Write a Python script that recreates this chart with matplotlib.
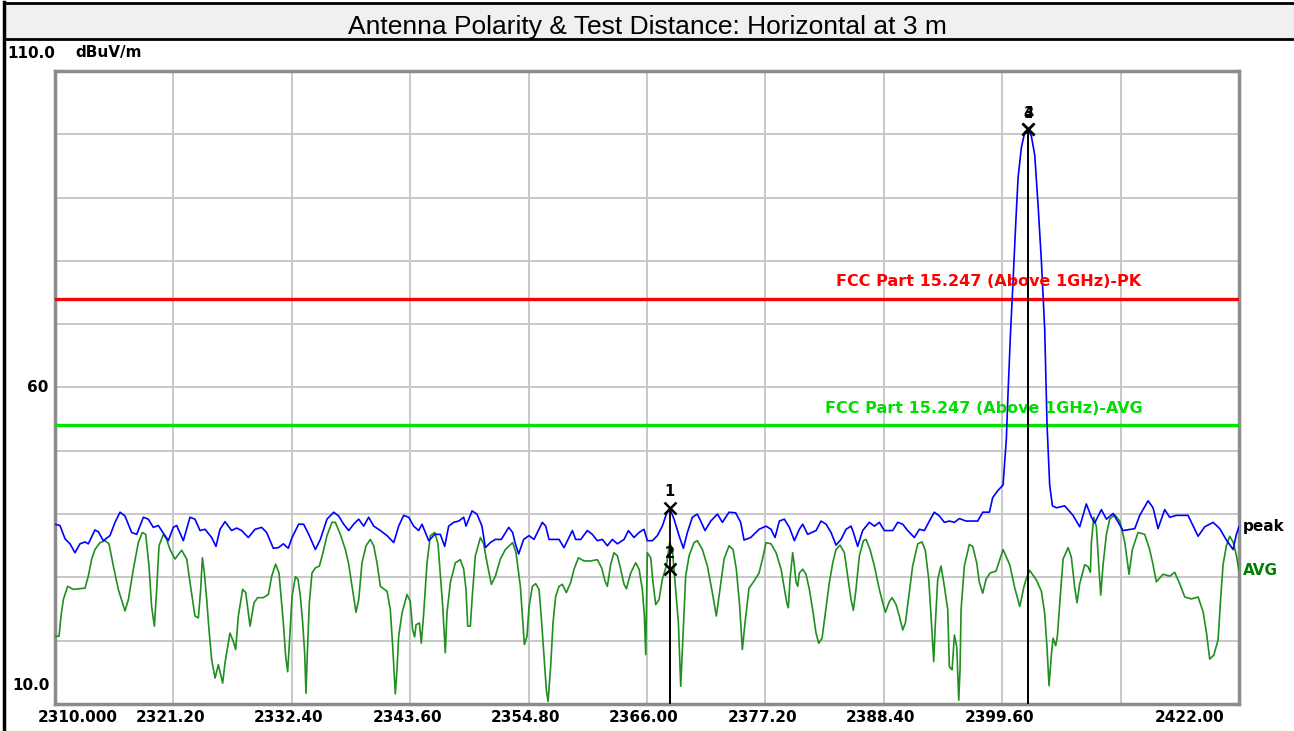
import matplotlib.pyplot as plt
import matplotlib.transforms as mtransforms
from matplotlib.lines import Line2D
from matplotlib.patches import Rectangle

# ---- data ----
title = "Antenna Polarity & Test Distance: Horizontal at 3 m"

x_ticks = [2310.0, 2321.2, 2332.4, 2343.6, 2354.8, 2366.0, 2377.2, 2388.4, 2399.6, 2410.8, 2422.0]
x_tick_labels = ["2310.000", "2321.20", "2332.40", "2343.60", "2354.80", "2366.00",
                 "2377.20", "2388.40", "2399.60", "", "2422.00"]
y_ticks = [10, 20, 30, 40, 50, 60, 70, 80, 90, 100, 110]

limit_pk = 74.0
limit_avg = 54.0
limit_pk_label = "FCC Part 15.247 (Above 1GHz)-PK"
limit_avg_label = "FCC Part 15.247 (Above 1GHz)-AVG"

peak_freq = [
    2310.00, 2310.47, 2310.95, 2311.42, 2311.89, 2312.36, 2312.84, 2313.15, 2313.78, 2314.10,
    2314.57, 2315.20, 2315.68, 2316.15, 2316.62, 2317.25, 2317.73, 2318.36, 2318.83, 2319.30,
    2319.77, 2320.41, 2320.72, 2321.19, 2321.51, 2322.14, 2322.77, 2323.24, 2323.72, 2324.19,
    2324.82, 2325.23, 2325.61, 2326.08, 2326.71, 2327.18, 2327.66, 2328.29, 2328.92, 2329.55,
    2330.02, 2330.65, 2331.13, 2331.60, 2332.07,
    2332.42, 2333.05, 2333.52, 2334.00, 2334.63, 2335.10, 2335.73, 2336.36, 2336.83, 2337.31,
    2337.78, 2338.25, 2338.73, 2339.20, 2339.67, 2340.15, 2340.78, 2341.41, 2342.04, 2342.51,
    2342.98, 2343.46, 2343.93, 2344.40, 2344.72, 2345.35, 2345.92, 2346.45, 2346.86, 2347.24,
    2347.71, 2348.19, 2348.66, 2348.88, 2349.45, 2349.92, 2350.39, 2350.71, 2351.18, 2351.65,
    2352.22, 2352.92, 2353.29, 2353.55, 2353.86, 2354.33,
    2354.84, 2355.31, 2355.63, 2356.10, 2356.42, 2356.73, 2357.20, 2357.68, 2358.15, 2358.47,
    2358.94, 2359.25, 2359.73, 2360.36, 2360.83, 2361.30, 2361.78, 2362.25, 2362.72, 2363.20,
    2363.83, 2364.24, 2364.77, 2365.25, 2365.72, 2366.03, 2366.51, 2366.98, 2367.45, 2367.83,
    2368.15, 2368.56, 2369.03, 2369.44, 2369.82, 2370.29, 2370.76, 2371.08, 2371.49, 2372.03,
    2372.66, 2373.13, 2373.76, 2374.39, 2374.86, 2375.18, 2375.81, 2376.60,
    2377.26, 2377.73, 2378.11, 2378.52, 2378.99, 2379.47, 2379.94, 2380.41, 2380.73, 2381.20,
    2381.99, 2382.46, 2382.94, 2383.41, 2383.88, 2384.35, 2384.83, 2385.30, 2385.52, 2385.93,
    2386.40, 2387.03, 2387.51, 2387.98, 2388.45, 2389.24, 2389.72, 2390.19, 2390.66, 2391.29,
    2391.77, 2392.24, 2392.71, 2393.18, 2393.66, 2394.13, 2394.60, 2395.08, 2395.55, 2396.18,
    2396.81, 2397.28, 2397.76, 2398.39, 2398.70, 2399.18,
    2399.68, 2399.99, 2400.15, 2400.37, 2400.63, 2400.88, 2401.10, 2401.41, 2401.73, 2402.04,
    2402.36, 2402.68, 2402.99, 2403.31, 2403.62, 2403.84, 2404.09, 2404.35, 2404.73, 2405.51,
    2406.30, 2406.93, 2407.56, 2408.04, 2408.35, 2408.98, 2409.46, 2410.09, 2411.03, 2412.14,
    2412.61, 2413.40, 2413.87, 2414.34, 2414.97, 2415.45, 2416.08, 2417.18, 2418.13, 2418.76,
    2419.55, 2420.18, 2420.81, 2421.44, 2421.75, 2422.00,
]
peak_level = [
    38.4, 38.2, 36.1, 35.3, 33.9, 35.3, 35.6, 35.3, 37.5, 37.2,
    35.8, 36.6, 38.7, 40.3, 39.7, 37.1, 36.8, 39.5, 39.2, 37.9,
    38.2, 36.6, 35.8, 37.9, 38.2, 35.8, 39.5, 39.2, 37.4, 37.6,
    36.3, 34.9, 37.6, 38.8, 37.4, 37.8, 37.4, 36.3, 37.6, 37.9,
    37.1, 34.6, 34.7, 35.3, 34.6,
    36.3, 38.4, 38.4, 36.8, 34.4, 36.0, 39.2, 40.3, 39.7, 38.4,
    37.4, 38.4, 39.2, 38.1, 39.5, 38.1, 37.4, 36.6, 35.5, 38.1,
    39.8, 39.5, 38.1, 37.4, 38.4, 35.8, 36.8, 36.8, 34.9, 38.1,
    38.7, 38.9, 39.5, 38.1, 40.5, 40.0, 38.1, 34.7, 35.5, 36.0,
    36.0, 37.9, 37.1, 35.3, 33.7, 36.0,
    36.6, 36.0, 37.1, 38.7, 38.1, 36.0, 36.0, 36.0, 34.7, 35.8,
    37.4, 36.0, 36.0, 37.4, 36.8, 35.8, 36.0, 35.0, 36.0, 35.3,
    36.0, 37.4, 36.3, 37.1, 37.6, 35.8, 35.8, 36.6, 38.1, 40.0,
    40.9, 39.2, 36.6, 34.6, 37.1, 39.5, 40.0, 38.9, 37.4, 38.9,
    40.0, 38.7, 40.3, 40.2, 38.7, 35.9, 36.3, 37.6,
    38.1, 37.6, 36.3, 38.9, 39.2, 37.9, 35.8, 37.6, 38.4, 36.8,
    37.4, 38.9, 38.4, 37.1, 35.1, 36.0, 37.6, 38.1, 37.1, 34.9,
    37.4, 38.7, 38.1, 38.7, 37.4, 37.4, 38.7, 38.4, 37.4, 36.3,
    37.6, 37.4, 38.9, 40.3, 39.7, 38.7, 38.9, 38.7, 39.3, 38.9,
    38.9, 38.9, 40.3, 40.3, 42.6, 43.7,
    44.6, 51.8, 59.0, 68.0, 76.9, 85.9, 93.1, 97.9, 100.3, 100.8,
    99.7, 96.7, 88.9, 79.9, 69.2, 54.2, 44.6, 41.3, 41.0, 41.3,
    39.8, 38.0, 41.6, 39.5, 38.6, 40.7, 39.2, 40.1, 37.4, 37.7,
    39.8, 42.1, 41.0, 37.7, 40.7, 39.5, 39.8, 39.8, 36.5, 38.0,
    38.7, 37.7, 35.9, 34.4, 36.8, 38.0,
]

avg_freq = [
    2310.00, 2310.38, 2310.57, 2310.79, 2311.20, 2311.73, 2312.21, 2312.84, 2313.15, 2313.47,
    2313.78, 2314.26, 2314.73, 2315.11, 2315.52, 2315.99, 2316.62, 2316.94, 2317.41, 2317.88,
    2318.26, 2318.58, 2318.89, 2319.14, 2319.40, 2319.62, 2319.84, 2320.25, 2320.56, 2320.88,
    2321.35, 2321.98, 2322.46, 2322.77, 2323.24, 2323.56, 2323.78, 2323.94, 2324.13, 2324.35,
    2324.57, 2324.82, 2325.14, 2325.45, 2325.86, 2326.08, 2326.55, 2326.87, 2327.09, 2327.34,
    2327.75, 2328.04, 2328.45, 2328.83, 2329.17, 2329.71, 2330.18, 2330.50, 2330.87, 2331.19,
    2331.60, 2331.82, 2332.01, 2332.23,
    2332.42, 2332.74, 2332.99, 2333.21, 2333.43, 2333.62, 2333.74, 2333.87, 2334.06, 2334.31,
    2334.63, 2335.01, 2335.32, 2335.73, 2336.20, 2336.52, 2336.99, 2337.47, 2337.78, 2338.10,
    2338.47, 2338.73, 2339.04, 2339.42, 2339.83, 2340.15, 2340.46, 2340.78, 2341.41, 2341.72,
    2341.94, 2342.19, 2342.35, 2342.51, 2342.83, 2343.30, 2343.61, 2343.83, 2344.02, 2344.15,
    2344.47, 2344.65, 2344.88, 2345.19, 2345.51, 2345.92, 2346.23, 2346.45, 2346.67, 2346.92,
    2347.08, 2347.40, 2347.87, 2348.34, 2348.66, 2348.88, 2349.04, 2349.29, 2349.45, 2349.76,
    2350.24, 2350.55, 2350.87, 2351.28, 2351.66, 2352.13, 2352.60, 2353.29, 2353.61, 2354.02,
    2354.40, 2354.65,
    2354.84, 2355.16, 2355.47, 2355.79, 2356.04, 2356.26, 2356.48, 2356.64, 2356.89, 2357.11,
    2357.36, 2357.68, 2357.99, 2358.37, 2358.78, 2359.10, 2359.51, 2360.04, 2360.67, 2361.30,
    2361.71, 2362.03, 2362.25, 2362.57, 2362.88, 2363.20, 2363.51, 2363.83, 2364.05, 2364.46,
    2364.93, 2365.25, 2365.56, 2365.75, 2365.88, 2366.03, 2366.35, 2366.57, 2366.82, 2367.14,
    2367.45, 2367.83, 2368.15, 2368.40, 2368.71, 2368.97, 2369.19, 2369.35, 2369.66, 2369.98,
    2370.45, 2370.76, 2371.24, 2371.71, 2372.18, 2372.56, 2372.81, 2373.29, 2373.76, 2374.14,
    2374.45, 2374.77, 2375.02, 2375.27, 2375.65, 2376.12, 2376.60, 2376.91,
    2377.26, 2377.73, 2378.21, 2378.68, 2379.00, 2379.22, 2379.37, 2379.53, 2379.78, 2379.94,
    2380.10, 2380.26, 2380.41, 2380.73, 2381.04, 2381.36, 2381.67, 2381.99, 2382.24, 2382.56,
    2382.87, 2383.25, 2383.57, 2383.88, 2384.26, 2384.67, 2384.99, 2385.30, 2385.52, 2385.77,
    2386.09, 2386.47, 2386.72, 2387.10, 2387.51, 2387.98, 2388.30, 2388.55, 2388.93, 2389.18,
    2389.56, 2389.87, 2390.19, 2390.44, 2390.76, 2391.13, 2391.61, 2392.02, 2392.33, 2392.65,
    2392.87, 2393.03, 2393.12, 2393.28, 2393.50, 2393.81, 2394.13, 2394.45, 2394.60, 2394.86,
    2395.08, 2395.30, 2395.49, 2395.61, 2395.71, 2396.02, 2396.49, 2396.81, 2397.19, 2397.44,
    2397.76, 2398.07, 2398.45, 2399.02, 2399.33,
    2399.68, 2400.31, 2400.78, 2401.26, 2401.64, 2401.89, 2402.20, 2402.83, 2403.31, 2403.62,
    2403.84, 2404.03, 2404.25, 2404.41, 2404.66, 2404.82, 2405.10, 2405.36, 2405.83, 2406.14,
    2406.46, 2406.68, 2406.93, 2407.41, 2407.72, 2407.94, 2408.04, 2408.26, 2408.51, 2408.73,
    2408.92, 2409.14, 2409.46, 2409.77, 2410.24, 2410.72, 2411.19, 2411.60, 2411.91, 2412.45,
    2413.08, 2413.55, 2413.87, 2414.18, 2414.82, 2415.45, 2415.92, 2416.39, 2416.87, 2417.50,
    2418.13, 2418.60, 2418.92, 2419.23, 2419.61, 2420.02, 2420.24, 2420.49, 2420.81, 2421.12,
    2421.44, 2421.75, 2422.00,
]
avg_level = [
    20.7, 20.7, 23.9, 26.5, 28.6, 28.1, 28.2, 28.3, 30.2, 32.9,
    34.4, 35.5, 35.8, 35.3, 31.8, 28.1, 24.7, 26.5, 31.3, 35.5,
    37.1, 36.8, 31.8, 25.4, 22.3, 28.1, 35.0, 36.8, 36.0, 34.4,
    32.9, 34.3, 32.9, 29.2, 23.9, 23.6, 28.1, 33.1, 30.7, 26.5,
    21.7, 17.0, 14.1, 16.2, 13.3, 16.5, 21.2, 19.9, 18.6, 23.9,
    28.1, 27.6, 22.3, 26.0, 26.8, 26.8, 27.3, 30.2, 32.1, 30.7,
    22.8, 17.5, 15.1, 21.2,
    27.0, 30.1, 29.7, 27.0, 22.8, 18.0, 11.7, 18.0, 26.0, 30.7,
    31.5, 31.8, 33.7, 36.6, 38.7, 38.7, 36.8, 34.4, 32.1, 28.6,
    24.5, 26.5, 32.3, 35.0, 36.0, 35.0, 32.3, 28.6, 27.8, 24.9,
    19.2, 11.6, 15.4, 20.7, 24.4, 27.3, 26.2, 21.7, 20.6, 22.5,
    22.8, 19.6, 24.4, 32.3, 36.6, 37.1, 35.3, 30.4, 25.6, 18.1,
    24.4, 29.2, 32.3, 32.8, 31.3, 28.1, 22.3, 22.3, 26.5, 33.4,
    36.3, 35.3, 32.3, 28.9, 30.2, 32.9, 34.4, 35.5, 33.9, 28.6,
    19.4, 20.7,
    25.4, 28.6, 29.0, 28.1, 22.8, 17.5, 12.2, 10.4, 16.0, 22.8,
    27.0, 28.6, 28.9, 27.6, 29.2, 31.3, 33.1, 32.6, 32.6, 32.8,
    31.5, 29.4, 28.6, 32.1, 33.9, 33.4, 31.3, 28.9, 28.2, 30.7,
    32.3, 31.3, 28.1, 23.9, 17.8, 33.9, 33.1, 29.2, 25.7, 26.5,
    29.7, 31.8, 35.5, 34.4, 28.1, 22.8, 12.8, 18.6, 30.2, 33.4,
    35.5, 35.8, 34.4, 31.8, 27.6, 23.9, 27.0, 32.9, 35.0, 34.4,
    31.3, 25.4, 18.6, 22.8, 28.3, 29.4, 30.7, 32.8,
    35.5, 35.3, 33.9, 31.3, 28.1, 26.0, 25.2, 29.7, 33.9, 31.8,
    29.2, 28.6, 30.7, 31.3, 30.5, 28.1, 24.9, 21.2, 19.6, 20.4,
    24.4, 29.2, 32.3, 34.4, 35.1, 33.9, 30.2, 26.5, 24.8, 28.1,
    33.4, 35.8, 36.0, 34.4, 31.8, 28.1, 26.0, 24.5, 26.2, 26.8,
    25.7, 23.9, 21.7, 22.8, 27.0, 31.8, 35.3, 35.6, 34.2, 29.7,
    23.9, 19.1, 16.7, 22.8, 29.7, 31.8, 28.6, 24.9, 15.9, 15.4,
    20.9, 19.1, 10.6, 15.4, 24.9, 31.8, 35.2, 34.9, 32.3, 29.2,
    27.5, 29.7, 30.7, 31.0, 32.6,
    34.4, 32.0, 28.4, 25.4, 28.4, 29.9, 31.1, 29.6, 27.8, 24.3,
    18.9, 12.9, 17.7, 20.4, 19.2, 20.7, 27.2, 32.9, 34.7, 33.2,
    28.4, 26.0, 29.0, 32.0, 31.7, 30.8, 35.6, 39.5, 38.0, 32.0,
    27.2, 32.0, 36.8, 39.2, 39.9, 38.9, 35.6, 30.5, 34.4, 37.1,
    36.8, 34.4, 32.0, 29.3, 30.5, 30.2, 30.8, 29.0, 26.9, 26.6,
    26.9, 24.6, 21.3, 17.1, 17.7, 20.1, 26.0, 32.0, 35.0, 36.5,
    35.6, 33.5, 31.1,
]

marker_ids = ["1", "2", "3", "4"]
marker_freq = [2368.15, 2368.15, 2402.04, 2402.04]
marker_level = [41.0, 31.3, 100.8, 100.8]

# ---- figure ----
W, H = 1294, 731
fig = plt.figure(figsize=(W / 100, H / 100), dpi=100)
fig.patch.set_facecolor("white")

# title band
fig.patches.append(Rectangle((4 / W, 1 - 39 / H), 1, 36 / H, transform=fig.transFigure,
                             facecolor="#f0f0f0", edgecolor="none", zorder=0))
fig.lines.append(Line2D([4 / W, 1], [1 - 3 / H, 1 - 3 / H], transform=fig.transFigure,
                        color="black", lw=2))
fig.lines.append(Line2D([4 / W, 1], [1 - 39 / H, 1 - 39 / H], transform=fig.transFigure,
                        color="black", lw=2))
fig.lines.append(Line2D([4 / W, 4 / W], [0, 1 - 2 / H], transform=fig.transFigure,
                        color="black", lw=2.5))
fig.text(0.5, 1 - 27 / H, title, ha="center", va="center", fontsize=19,
         family="Liberation Sans", color="black")

ax = fig.add_axes([55 / W, 1 - 704 / H, (1239 - 55) / W, (704 - 71) / H])
ax.set_xlim(2310, 2422)
ax.set_ylim(10, 110)
ax.set_xticks(x_ticks)
ax.set_yticks(y_ticks)
ax.set_xticklabels([])
ax.set_yticklabels([])
ax.tick_params(length=0)
ax.grid(True, color="#c8c8c8", lw=1.4)
ax.set_axisbelow(True)
for s in ax.spines.values():
    s.set_color("#8c8c8c")
    s.set_linewidth(2.5)

# limits
ax.axhline(limit_pk, color="#ff0000", lw=2.4, zorder=3)
ax.axhline(limit_avg, color="#00e600", lw=2.4, zorder=3)
ax.text(2412.7, limit_pk + 1.5, limit_pk_label, ha="right", va="bottom", color="#ff0000",
        fontsize=11.5, fontweight="bold", zorder=6)
ax.text(2412.9, limit_avg + 1.5, limit_avg_label, ha="right", va="bottom", color="#00dd00",
        fontsize=11.5, fontweight="bold", zorder=6)

# traces
ax.plot(avg_freq, avg_level, color="#1f8f1f", lw=1.2, zorder=4)
ax.plot(peak_freq, peak_level, color="#0000ff", lw=1.2, zorder=5)

# markers
for mid, mf, ml in zip(marker_ids, marker_freq, marker_level):
    ax.vlines(mf, 10, ml, color="black", lw=1.3, zorder=6)
    ax.plot(mf, ml, marker="x", ms=9, mew=1.8, color="black", zorder=7)
    ax.annotate(mid, (mf, ml), xytext=(0, 6), textcoords="offset points", ha="center",
                va="bottom", fontsize=10.5, fontweight="bold", zorder=8)

# axis labels drawn as text
bold = dict(fontsize=11, fontweight="bold", color="black")
xt = ax.get_xaxis_transform()
for i, (xv, lab) in enumerate(zip(x_ticks, x_tick_labels)):
    if not lab:
        continue
    if i == 0:
        tr = mtransforms.offset_copy(xt, fig=fig, x=-17, y=-14, units="dots")
        ha = "left"
    elif i == len(x_ticks) - 1:
        tr = mtransforms.offset_copy(xt, fig=fig, x=-15, y=-14, units="dots")
        ha = "right"
    else:
        tr = mtransforms.offset_copy(xt, fig=fig, x=-3, y=-14, units="dots")
        ha = "center"
    ax.text(xv, 0, lab, transform=tr, ha=ha, va="center", **bold)
ax.text(1.0, 0, "MHz", transform=mtransforms.offset_copy(xt, fig=fig, x=3, y=-14, units="dots"),
        ha="left", va="center", **bold)

yt = ax.get_yaxis_transform()
ax.text(0, 110, "110.0", transform=mtransforms.offset_copy(yt, fig=fig, x=0, y=18, units="dots"),
        ha="right", va="center", **bold)
ax.text(0, 110, "dBuV/m", transform=mtransforms.offset_copy(yt, fig=fig, x=20, y=18, units="dots"),
        ha="left", va="center", **bold)
ax.text(0, 60, "60", transform=mtransforms.offset_copy(yt, fig=fig, x=-7, y=0, units="dots"),
        ha="right", va="center", **bold)
ax.text(0, 10, "10.0", transform=mtransforms.offset_copy(yt, fig=fig, x=-5, y=18, units="dots"),
        ha="right", va="center", **bold)

ax.text(1.0, peak_level[-1], "peak",
        transform=mtransforms.offset_copy(yt, fig=fig, x=4, y=0, units="dots"),
        ha="left", va="center", **bold)
ax.text(1.0, avg_level[-1], "AVG",
        transform=mtransforms.offset_copy(yt, fig=fig, x=4, y=0, units="dots"),
        ha="left", va="center", fontsize=11, fontweight="bold", color="#008000")

fig.savefig("out.png", dpi=100)
